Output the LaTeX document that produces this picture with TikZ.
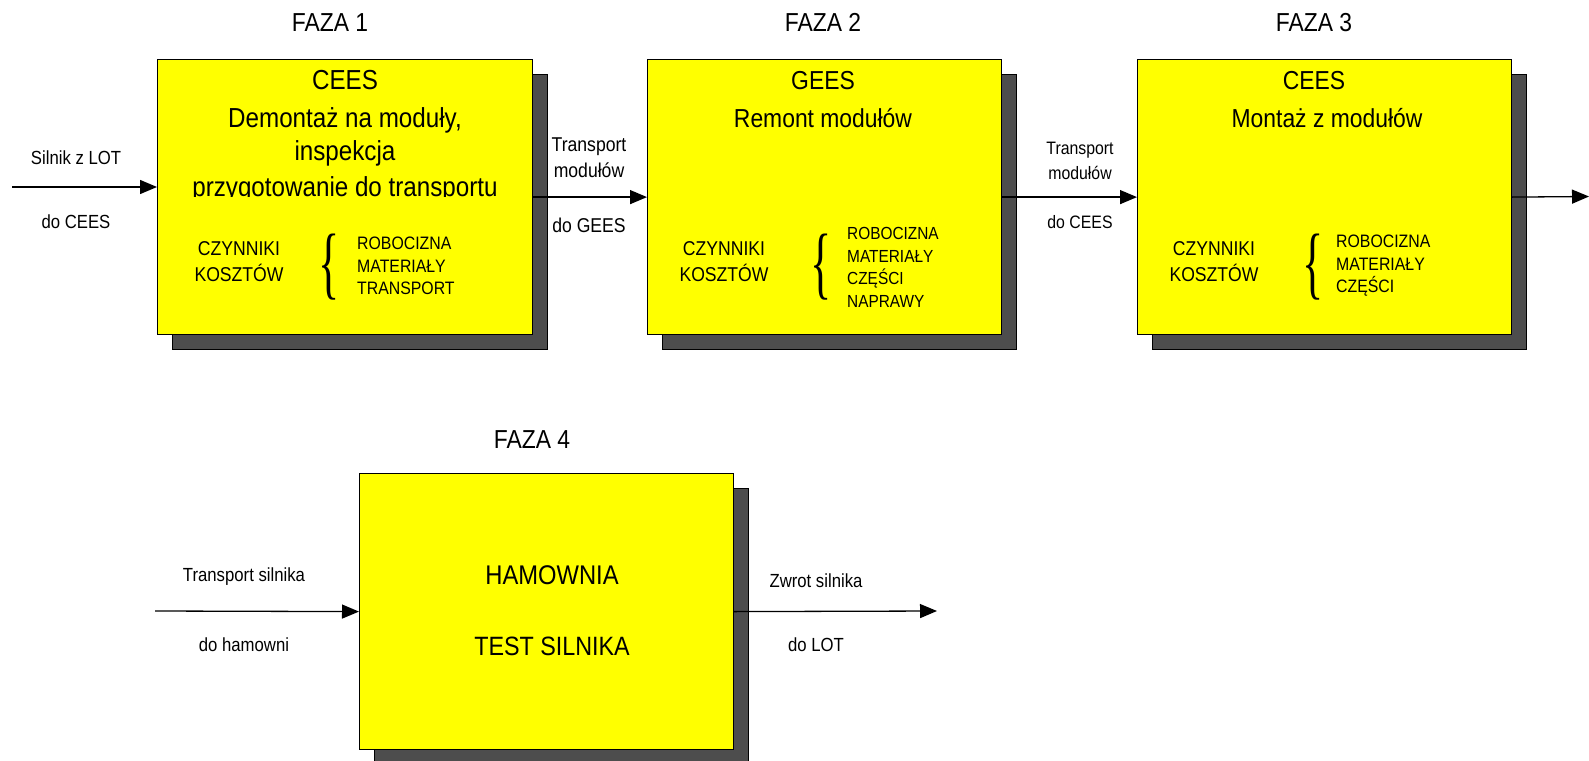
\documentclass[tikz,border=0pt]{standalone}
\usepackage{fontspec}
\setmainfont{Liberation Sans}[FakeStretch=0.88]
\newfontfamily\bracefont{Liberation Serif}
\usetikzlibrary{arrows.meta,shadows}
\definecolor{boxyellow}{RGB}{255,255,0}
\definecolor{shadowgray}{RGB}{77,77,77}
\begin{document}
\begin{tikzpicture}[x=1pt,y=-1pt,
  phase/.style={draw=black, line width=1.2pt, fill=boxyellow, anchor=north west, inner sep=0pt,
    general shadow={fill=shadowgray, draw=black, line width=1.2pt, shadow xshift=15pt, shadow yshift=-15pt}},
  big/.style={inner sep=0pt, font=\fontsize{26}{33}\selectfont},
  bigger/.style={inner sep=0pt, font=\fontsize{27.5}{33}\selectfont},
  title/.style={inner sep=0pt, font=\fontsize{26}{33}\selectfont},
  lbl/.style={inner sep=0pt, align=center, font=\fontsize{19}{26}\selectfont},
  cost/.style={inner sep=0pt, align=center, font=\fontsize{20}{26}\selectfont},
  list/.style={inner sep=0pt, anchor=west, align=left, font=\fontsize{18}{22.5}\selectfont},
  brace/.style={inner sep=0pt, font=\bracefont\fontsize{80}{80}\selectfont},
  arr/.style={-{Triangle[length=17pt,width=14pt]}, line width=1.3pt}
]
\useasboundingbox (0,0) rectangle (1589,760);

% phase titles
\node[title, anchor=base] (f1) at (330,32) {FAZA 1};
\node[title, anchor=base] (f2) at (823,32) {FAZA 2};
\node[title, anchor=base] (f3) at (1314,32) {FAZA 3};
\node[title, anchor=base] (f4) at (532,448) {FAZA 4};

% boxes
\node[phase, minimum width=375pt, minimum height=275pt] (b1) at (157,59) {};
\node[phase, minimum width=354pt, minimum height=275pt] (b2) at (647,59) {};
\node[phase, minimum width=374pt, minimum height=275pt] (b3) at (1137,59) {};
\node[phase, minimum width=374pt, minimum height=276pt] (b4) at (359,473) {};

% box 1 text
\node[bigger, anchor=base] (t1a) at (345,89) {CEES};
\node[bigger, anchor=base] (t1b) at (345,127) {Demontaż na moduły,};
\node[bigger, anchor=base] (t1c) at (345,160) {inspekcja};
\begin{scope}
  \clip (157,59) rectangle (532,196.5);
  \node[bigger, anchor=base] (t1d) at (345,196.5) {przygotowanie do transportu};
\end{scope}
\node[cost] (c1) at (239,262) {CZYNNIKI\\KOSZTÓW};
\node[brace] (br1) at (329,267) {\scalebox{0.55}[1]{\{}};
\node[list] (l1) at (357,266) {ROBOCIZNA\\MATERIAŁY\\TRANSPORT};

% box 2 text
\node[big, anchor=base] (t2a) at (823,89) {GEES};
\node[big, anchor=base] (t2b) at (823,127) {Remont modułów};
\node[cost] (c2) at (724,262) {CZYNNIKI\\KOSZTÓW};
\node[brace] (br2) at (821,267) {\scalebox{0.55}[1]{\{}};
\node[list, font=\fontsize{17.5}{22.7}\selectfont] (l2) at (847,267.5) {ROBOCIZNA\\MATERIAŁY\\CZĘŚCI\\NAPRAWY};

% box 3 text
\node[big, anchor=base] (t3a) at (1314,89) {CEES};
\node[big, anchor=base] (t3b) at (1327,127) {Montaż z modułów};
\node[cost] (c3) at (1214,262) {CZYNNIKI\\KOSZTÓW};
\node[brace] (br3) at (1313,267) {\scalebox{0.55}[1]{\{}};
\node[list] (l3) at (1336,266) {ROBOCIZNA\\MATERIAŁY\\CZĘŚCI};

% box 4 text
\node[big, font=\fontsize{27}{33}\selectfont] (t4a) at (552,575) {HAMOWNIA};
\node[big, font=\fontsize{26.5}{33}\selectfont] (t4b) at (552,646) {TEST SILNIKA};

% connectors
\coordinate (in1) at (12,187);
\draw[arr] (in1) -- (in1 -| b1.west);
\draw[arr] (b1.east) -- (b2.west);
\draw[arr] (b2.east) -- (b3.west);
\coordinate (out3) at (1589,196.5);
\draw[arr] (b3.east) -- (out3);
\coordinate (in4) at (155,611);
\draw[arr] (in4) -- (b4.west);
\coordinate (out4) at (937,611);
\draw[arr] (b4.east) -- (out4);

% connector labels
\node[lbl] (a1) at (76,158) {Silnik z LOT};
\node[lbl] (a1b) at (76,222) {do CEES};
\node[lbl, font=\fontsize{20}{26}\selectfont] (a2) at (589,158) {Transport\\modułów};
\node[lbl, font=\fontsize{20}{26}\selectfont] (a2b) at (589,225) {do GEES};
\node[lbl, font=\fontsize{18}{25}\selectfont] (a3) at (1080,161) {Transport\\modułów};
\node[lbl, font=\fontsize{18}{25}\selectfont] (a3b) at (1080,222) {do CEES};
\node[lbl] (a4) at (244,577) {Transport silnika};
\node[lbl] (a4b) at (244,645) {do hamowni};
\node[lbl] (a5) at (816,581) {Zwrot silnika};
\node[lbl] (a5b) at (816,645) {do LOT};
\end{tikzpicture}
\end{document}
